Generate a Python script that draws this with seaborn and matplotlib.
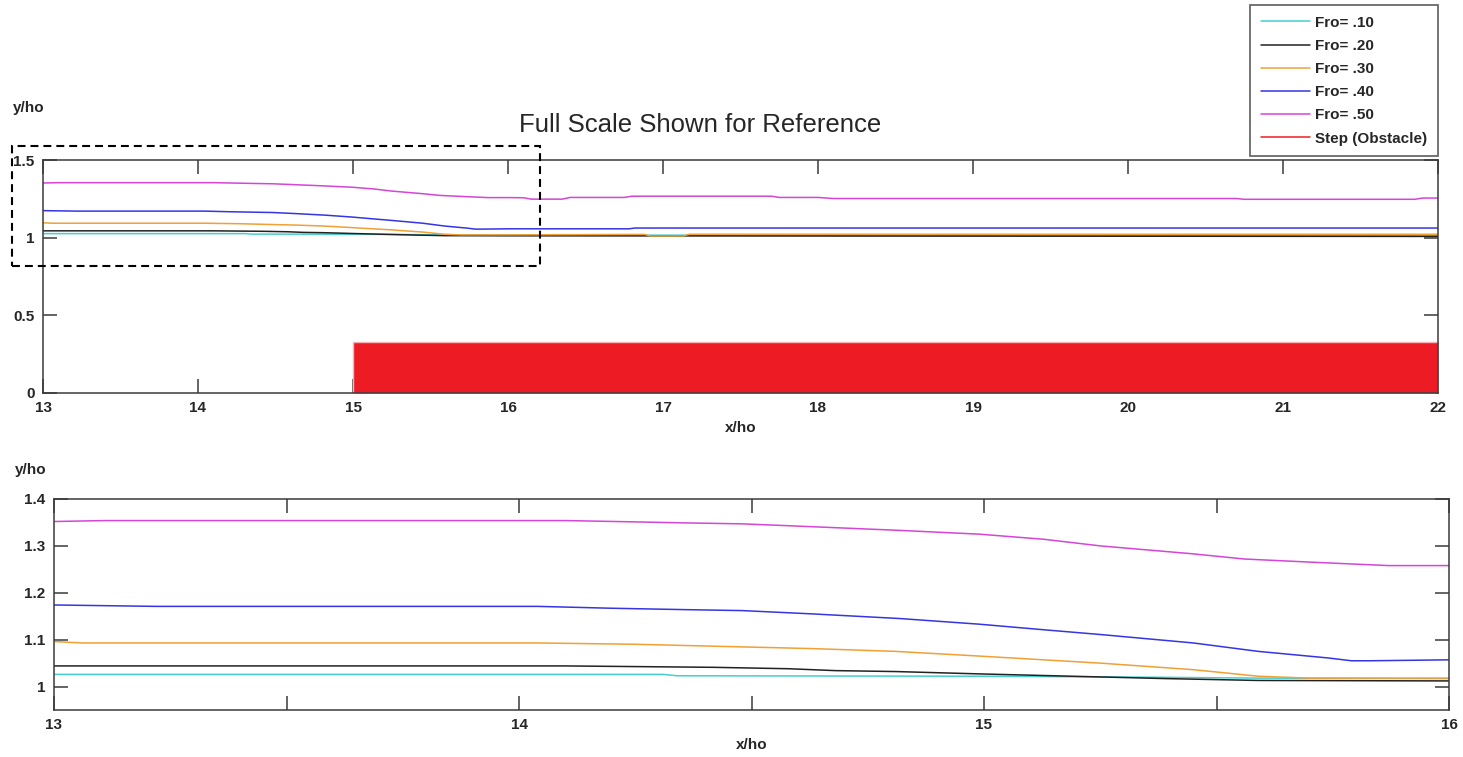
import numpy as np
import pandas as pd
import seaborn as sns
import matplotlib
matplotlib.use("Agg")
import matplotlib.pyplot as plt
from matplotlib.patches import Rectangle
from matplotlib.lines import Line2D
from matplotlib.ticker import MultipleLocator, FixedLocator

# ---------------- data ----------------
labels = ["Fro= .10", "Fro= .20", "Fro= .30", "Fro= .40", "Fro= .50"]
colors = ["#45cfcf", "#222222", "#f0a035", "#3535e6", "#d445d8"]

x_fro10 = [13.0, 14.31, 14.34, 15.0, 15.35, 15.59, 16.0, 22.0]
y_fro10 = [1.026, 1.026, 1.023, 1.022, 1.020, 1.018, 1.017, 1.012]

x_fro20 = [13.0, 14.10, 14.42, 14.58, 14.68, 14.81, 14.99, 15.19, 15.39, 15.59, 16.0, 22.0]
y_fro20 = [1.044, 1.044, 1.041, 1.038, 1.034, 1.032, 1.027, 1.022, 1.017, 1.013, 1.012, 1.008]

x_fro30 = [13.0, 13.06, 14.04, 14.26, 14.42, 14.63, 14.81, 14.99, 15.25, 15.45, 15.59,
           15.70, 16.0, 16.88, 16.92, 17.13, 17.17, 22.0]
y_fro30 = [1.096, 1.093, 1.093, 1.090, 1.086, 1.081, 1.075, 1.065, 1.050, 1.036, 1.022,
           1.018, 1.018, 1.021, 1.011, 1.011, 1.022, 1.022]

x_fro40 = [13.0, 13.22, 14.04, 14.20, 14.36, 14.48, 14.63, 14.82, 14.99, 15.13, 15.25,
           15.45, 15.59, 15.74, 15.79, 15.83, 16.0, 16.78, 16.82, 22.0]
y_fro40 = [1.174, 1.171, 1.171, 1.167, 1.164, 1.162, 1.155, 1.145, 1.133, 1.121, 1.111,
           1.093, 1.075, 1.061, 1.055, 1.055, 1.057, 1.057, 1.062, 1.062]

x_fro50 = [13.0, 13.11, 14.10, 14.26, 14.36, 14.48, 14.58, 14.82, 14.99, 15.13, 15.25,
           15.45, 15.56, 15.71, 15.87, 16.0, 16.10, 16.15, 16.35, 16.40, 16.75, 16.80,
           17.70, 17.75, 18.00, 18.10, 20.70, 20.75, 21.85, 21.90, 22.0]
y_fro50 = [1.352, 1.354, 1.354, 1.351, 1.349, 1.347, 1.343, 1.333, 1.325, 1.314, 1.300,
           1.283, 1.272, 1.265, 1.258, 1.258, 1.257, 1.248, 1.248, 1.259, 1.259, 1.267,
           1.267, 1.259, 1.259, 1.252, 1.252, 1.247, 1.247, 1.255, 1.255]

step_label = "Step (Obstacle)"
step_x = [15.0, 22.0]
step_y = [0.33, 0.33]
step_color = "#ed1c24"

series_x = [x_fro10, x_fro20, x_fro30, x_fro40, x_fro50]
series_y = [y_fro10, y_fro20, y_fro30, y_fro40, y_fro50]

title_text = "Full Scale Shown for Reference"
xlabel_text = "x/ho"
ylabel_text = "y/ho"

# ---------------- style ----------------
sns.set_style("ticks")
plt.rcParams["font.family"] = ["Liberation Sans", "DejaVu Sans"]
plt.rcParams["axes.edgecolor"] = "#3a3a3a"
plt.rcParams["axes.linewidth"] = 1.1

W, H = 1463, 757
fig = plt.figure(figsize=(W / 100, H / 100), dpi=100)
fig.patch.set_facecolor("white")

def fx(px):
    return px / W

def fy(py):
    return 1 - py / H

ax1 = fig.add_axes([fx(43), fy(393), fx(1438) - fx(43), fy(160) - fy(393)])
ax2 = fig.add_axes([fx(54), fy(710), fx(1449) - fx(54), fy(499) - fy(710)])

# ---------------- top panel ----------------
for xs, ys, c, lab in zip(series_x, series_y, colors, labels):
    sns.lineplot(x=xs, y=ys, ax=ax1, color=c, linewidth=1.1, label=lab, estimator=None)
ax1.fill_between(step_x, 0, step_y, facecolor=step_color, edgecolor="#f6b3b5",
                 linewidth=1.0, zorder=1)

ax1.set_xlim(13, 22)
ax1.set_ylim(0, 1.5)
ax1.xaxis.set_major_locator(MultipleLocator(1))
ax1.yaxis.set_major_locator(FixedLocator([0, 0.5, 1, 1.5]))
ax1.set_yticklabels(["0", "0.5", "1", "1.5"])

# ---------------- bottom panel ----------------
for xs, ys, c in zip(series_x, series_y, colors):
    sns.lineplot(x=xs, y=ys, ax=ax2, color=c, linewidth=1.1, legend=False, estimator=None)
ax2.set_xlim(13, 16)
ax2.set_ylim(0.95, 1.4)
ax2.xaxis.set_major_locator(MultipleLocator(1))
ax2.xaxis.set_minor_locator(MultipleLocator(0.5))
ax2.yaxis.set_major_locator(FixedLocator([1.0, 1.1, 1.2, 1.3, 1.4]))
ax2.set_yticklabels(["1", "1.1", "1.2", "1.3", "1.4"])

for ax in (ax1, ax2):
    ax.tick_params(axis="both", which="both", direction="in", length=10, width=1.1,
                   color="#3a3a3a", top=True, right=True, labelsize=11, pad=6)
    for lab in ax.get_xticklabels() + ax.get_yticklabels():
        lab.set_fontweight("bold")
    ax.set_xlabel(xlabel_text, fontsize=11, fontweight="bold", labelpad=4)
    ax.set_ylabel("")
    for s in ax.spines.values():
        s.set_visible(True)

if ax1.get_legend() is not None:
    ax1.get_legend().remove()

# y labels placed above the axes
fig.text(fx(13), fy(108), ylabel_text, fontsize=11, fontweight="bold", ha="left", va="center")
fig.text(fx(15), fy(470), ylabel_text, fontsize=11, fontweight="bold", ha="left", va="center")

# title
fig.text(fx(700), fy(125), title_text, fontsize=18.5, ha="center", va="center")

# legend
handles, labs = ax1.get_legend_handles_labels()
handles = handles[:5] + [Line2D([0], [0], color=step_color, lw=1.1)]
leg = fig.legend(handles, labels + [step_label], loc="upper right",
                 bbox_to_anchor=(fx(1438), fy(5)), borderaxespad=0,
                 prop={"weight": "bold", "size": 11}, frameon=True, fancybox=False,
                 edgecolor="#444444", handlelength=3.2, handletextpad=0.35,
                 labelspacing=0.6, borderpad=0.7)
leg.get_frame().set_linewidth(1.3)

# dashed box highlighting the zoomed region
rect = Rectangle((fx(12), fy(266)), fx(540) - fx(12), fy(146) - fy(266),
                 transform=fig.transFigure, fill=False, edgecolor="black",
                 linewidth=1.5, linestyle=(0, (3.8, 2.4)), zorder=10)
fig.patches.append(rect)

fig.savefig("out.png", dpi=100, facecolor="white")
